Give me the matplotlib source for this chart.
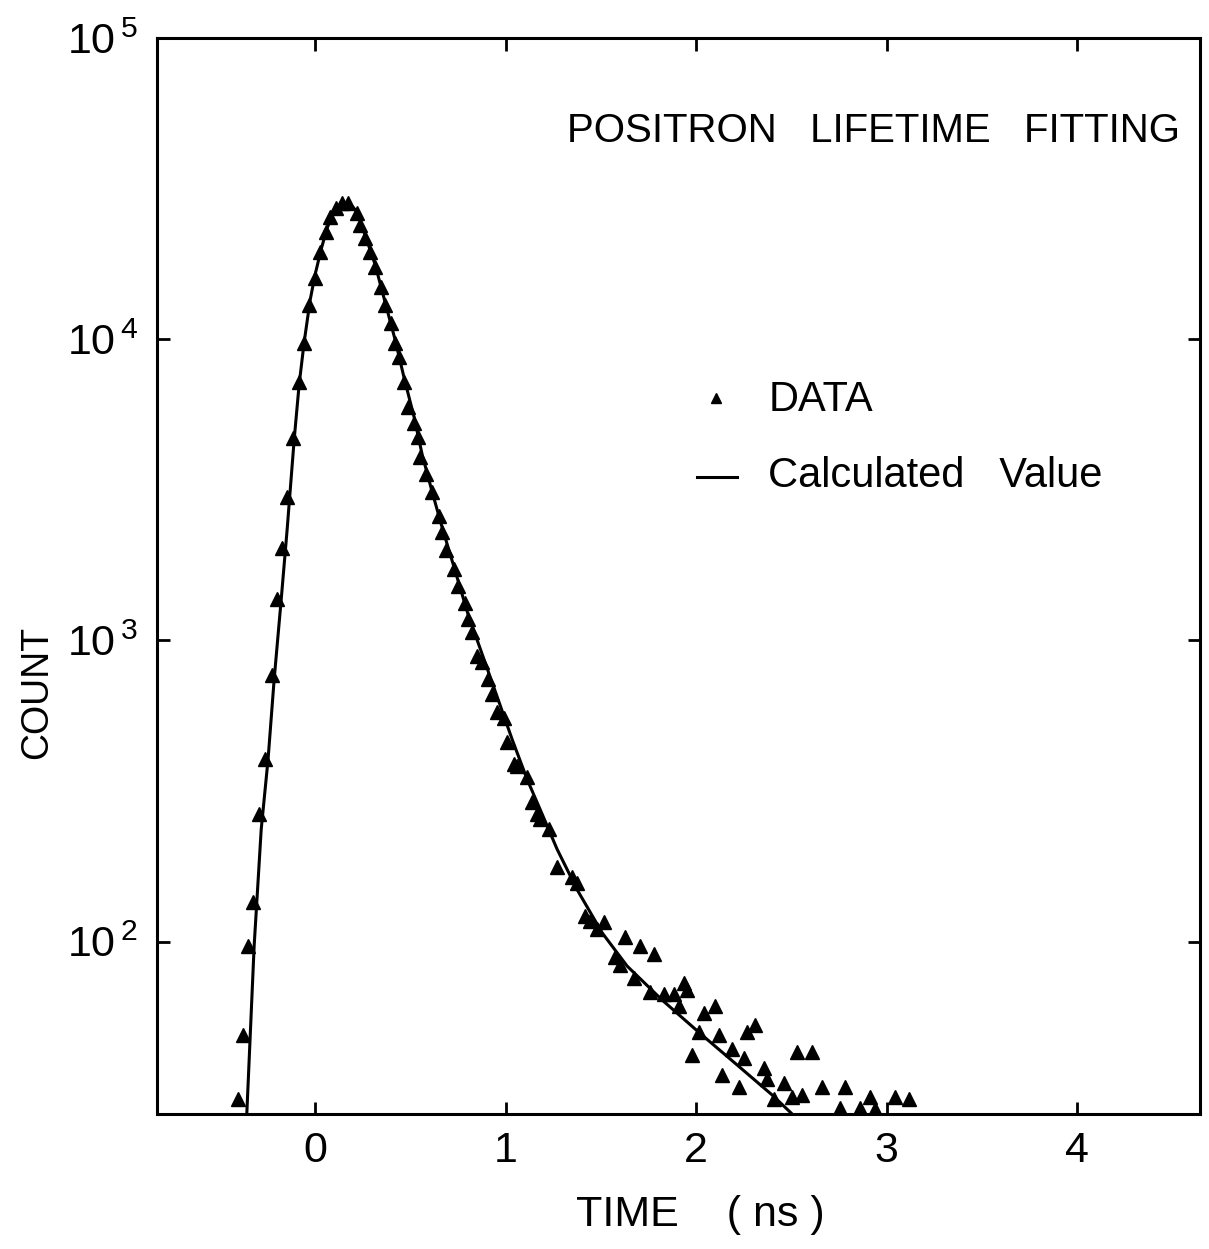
import numpy as np
import matplotlib
matplotlib.use("Agg")
import matplotlib.pyplot as plt
from matplotlib.ticker import NullLocator, FixedLocator, FixedFormatter

plt.rcParams['font.family'] = ['Liberation Sans', 'DejaVu Sans']
plt.rcParams['mathtext.default'] = 'regular'

# measured spectrum (triangles)
time_ns = [-0.404, -0.378, -0.352, -0.325, -0.294, -0.262, -0.226, -0.199, -0.173, -0.147,
           -0.115, -0.084, -0.058, -0.031, 0.000, 0.026, 0.058, 0.079, 0.110, 0.142,
           0.173, 0.220, 0.236, 0.262, 0.289, 0.315, 0.346, 0.367, 0.399, 0.420,
           0.441, 0.467, 0.488, 0.520, 0.541, 0.551, 0.583, 0.614, 0.651, 0.667,
           0.688, 0.730, 0.751, 0.787, 0.803, 0.824, 0.850, 0.877, 0.908, 0.929,
           0.955, 0.992, 1.008, 1.045, 1.060, 1.113, 1.139, 1.165, 1.181, 1.228,
           1.270, 1.349, 1.375, 1.417, 1.444, 1.480, 1.517, 1.575, 1.601, 1.627,
           1.675, 1.706, 1.759, 1.780, 1.832, 1.885, 1.911, 1.937, 1.953, 1.979,
           2.016, 2.042, 2.100, 2.121, 2.136, 2.189, 2.226, 2.252, 2.268, 2.310,
           2.357, 2.373, 2.409, 2.462, 2.504, 2.530, 2.556, 2.609, 2.661, 2.756,
           2.782, 2.861, 2.913, 2.940, 3.045, 3.118]
counts = [30, 49, 97, 136, 265, 403, 771, 1368, 2034, 3005,
          4710, 7230, 9730, 13000, 16000, 19500, 22700, 25500, 27300, 28400,
          28400, 26300, 24000, 21700, 19500, 17400, 14900, 13000, 11350, 9730,
          8750, 7230, 5970, 5290, 4750, 4080, 3580, 3100, 2580, 2300,
          2000, 1730, 1520, 1330, 1175, 1064, 885, 851, 743, 662,
          577, 551, 462, 388, 382, 351, 292, 265, 255, 236,
          177, 164, 157, 122, 117, 110, 116, 89, 84, 104,
          76, 97, 68, 91, 67, 67, 61, 73, 69, 42,
          50, 58, 61, 49, 36, 44, 33, 41, 50, 53,
          38, 35, 30, 34, 30.5, 43, 31, 43, 33, 28,
          33, 28, 30.5, 27.8, 30.5, 30]

# fitted curve
fit_time = [-0.362, -0.320, -0.283, -0.247, -0.215, -0.178, -0.147, -0.110, -0.084, -0.058,
            -0.026, 0.000, 0.031, 0.063, 0.100, 0.142, 0.184, 0.220, 0.262, 0.315,
            0.367, 0.420, 0.467, 0.520, 0.562, 0.614, 0.667, 0.730, 0.803, 0.877,
            0.955, 1.034, 1.113, 1.192, 1.270, 1.375, 1.507, 1.638, 1.822, 2.031,
            2.215, 2.399, 2.504]
fit_counts = [24, 97, 236, 403, 743, 1368, 2330, 4640, 7060, 9730,
              13500, 16400, 19800, 23400, 26500, 28400, 28100, 26500, 22200, 17700,
              13300, 9960, 7450, 5500, 4140, 3120, 2370, 1746, 1220, 900,
              652, 470, 346, 265, 203, 149, 107, 83, 64, 49,
              39, 31, 26.8]

xticks = [0, 1, 2, 3, 4]
yticks = [1e2, 1e3, 1e4, 1e5]
ytick_labels = [r'$10^{\,2}$', r'$10^{\,3}$', r'$10^{\,4}$', r'$10^{\,5}$']

fig = plt.figure(figsize=(12.09, 12.49), dpi=100)
ax = fig.add_axes([157/1209, 1 - 1114/1249, 1043/1209, 1076/1249])

ax.plot(fit_time, fit_counts, color='black', lw=2.2)
ax.plot(time_ns, counts, ls='none', marker='^', color='black', ms=10)

ax.set_yscale('log')
ax.set_xlim(-0.83, 4.645)
ax.set_ylim(26.8, 1e5)
ax.set_xticks(xticks)
ax.yaxis.set_major_locator(FixedLocator(yticks))
ax.yaxis.set_major_formatter(FixedFormatter(ytick_labels))
ax.yaxis.set_minor_locator(NullLocator())
ax.xaxis.set_minor_locator(NullLocator())

for sp in ax.spines.values():
    sp.set_linewidth(2.2)
ax.tick_params(which='major', direction='in', length=9, width=2,
               top=True, right=True, labelsize=31)
ax.tick_params(axis='x', pad=12)
ax.tick_params(axis='y', pad=14)

ax.set_xlabel('TIME    ( ns )', fontsize=31)
ax.xaxis.set_label_coords(0.521, -0.075)
fig.text(37/1209, 1 - 692/1249, 'COUNT', rotation=90, fontsize=27,
         ha='center', va='center')

ax.text(0.393, 0.914, 'POSITRON   LIFETIME   FITTING', transform=ax.transAxes,
        fontsize=29, ha='left', va='center')

ax.plot([0.536], [0.665], marker='^', color='black', ms=7, transform=ax.transAxes)
ax.text(0.586, 0.664, 'DATA', transform=ax.transAxes, fontsize=30,
        ha='left', va='center')
ax.plot([0.518, 0.556], [0.592, 0.592], color='black', lw=2.2, transform=ax.transAxes)
ax.text(0.586, 0.593, 'Calculated   Value', transform=ax.transAxes, fontsize=30,
        ha='left', va='center')

fig.savefig('out.png', dpi=100)
